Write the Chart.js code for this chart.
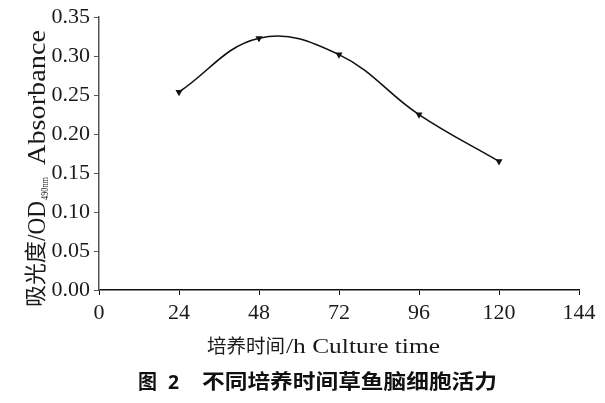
<!DOCTYPE html>
<html lang="zh-CN">
<head>
<meta charset="UTF-8">
<title>不同培养时间草鱼脑细胞活力</title>
<script src="https://cdn.jsdelivr.net/npm/chart.js"></script>
<style>
    html, body { margin: 0; padding: 0; background: #fff; }
    #wrap { width: 605px; height: 403px; }
</style>
</head>
<body>
<div id="wrap"><canvas id="myChart" width="605" height="403"></canvas></div>
<script>
    // 数据
    const cultureTime = [24, 48, 72, 96, 120];          // h
    const absorbance = [0.254, 0.323, 0.302, 0.225, 0.165]; // OD490nm
    const xTicks = [0, 24, 48, 72, 96, 120, 144];
    const yTicks = [0, 0.05, 0.10, 0.15, 0.20, 0.25, 0.30, 0.35];

    const serif = '"Liberation Serif", "DejaVu Serif", serif';
    const cjk = '"Noto Sans CJK SC", sans-serif';

    // 按目标宽度拉伸绘制文字
    function fitText(ctx, text, x, y, w) {
        const m = ctx.measureText(text).width;
        ctx.save();
        ctx.translate(x, y);
        ctx.scale(w / m, 1);
        ctx.fillText(text, 0, 0);
        ctx.restore();
    }

    const titles = {
        id: 'titles',
        afterDraw(chart) {
            const ctx = chart.ctx;
            ctx.save();
            ctx.fillStyle = '#1a1a1a';
            ctx.textBaseline = 'alphabetic';
            ctx.textAlign = 'left';

            // y 轴标题（旋转）
            ctx.save();
            ctx.translate(45, 307);
            ctx.rotate(-Math.PI / 2);
            ctx.font = '22px ' + cjk;
            fitText(ctx, '吸光度', 0, -2, 66);
            ctx.font = '25px ' + serif;
            fitText(ctx, '/OD', 66, 0, 40);
            ctx.font = '11px ' + serif;
            fitText(ctx, '490nm', 107, 3, 23);
            ctx.font = '25px ' + serif;
            fitText(ctx, 'Absorbance', 142, 0, 135);
            ctx.restore();

            // x 轴标题
            ctx.font = '19px ' + cjk;
            fitText(ctx, '培养时间', 207, 353, 78);
            ctx.font = '21px ' + serif;
            fitText(ctx, '/h Culture time', 286, 353, 154);

            // 图题
            ctx.font = 'bold 20px ' + cjk;
            ctx.fillStyle = '#111';
            fitText(ctx, '图', 138, 389, 19);
            ctx.font = 'bold 20px "Noto Sans", sans-serif';
            fitText(ctx, '2', 168, 389, 11);
            ctx.font = 'bold 20px ' + cjk;
            fitText(ctx, '不同培养时间草鱼脑细胞活力', 202, 389, 295);
            ctx.restore();
        }
    };

    const ctx = document.getElementById('myChart').getContext('2d');
    new Chart(ctx, {
        type: 'line',
        data: {
            datasets: [{
                data: cultureTime.map((t, i) => ({ x: t, y: absorbance[i] })),
                borderColor: '#111',
                borderWidth: 1.6,
                tension: 0.4,
                pointStyle: 'triangle',
                rotation: 180,
                pointRadius: 2.5,
                pointBackgroundColor: '#111',
                pointBorderColor: '#111',
                fill: false
            }]
        },
        options: {
            responsive: false,
            animation: false,
            devicePixelRatio: 1,
            layout: { padding: { left: 0, right: 26, top: 13, bottom: 0 } },
            plugins: { legend: { display: false }, tooltip: { enabled: false } },
            scales: {
                x: {
                    type: 'linear',
                    min: 0,
                    max: 144,
                    afterBuildTicks: (s) => { s.ticks = xTicks.map(v => ({ value: v })); },
                    afterFit: (s) => { s.height = 113; },
                    ticks: { color: '#1a1a1a', font: { family: serif, size: 22 }, padding: 5, maxRotation: 0 },
                    grid: { drawOnChartArea: false, drawTicks: true, tickLength: 5, color: '#111' },
                    border: { color: '#111', width: 1.5 }
                },
                y: {
                    min: 0,
                    max: 0.35,
                    afterBuildTicks: (s) => { s.ticks = yTicks.map(v => ({ value: v })); },
                    afterFit: (s) => { s.width = 99; },
                    ticks: {
                        color: '#1a1a1a',
                        font: { family: serif, size: 22 },
                        padding: 4,
                        callback: (v) => v.toFixed(2)
                    },
                    grid: { drawOnChartArea: false, drawTicks: true, tickLength: 5, color: '#555' },
                    border: { color: '#555', width: 1.5 }
                }
            }
        },
        plugins: [titles]
    });
</script>
</body>
</html>
